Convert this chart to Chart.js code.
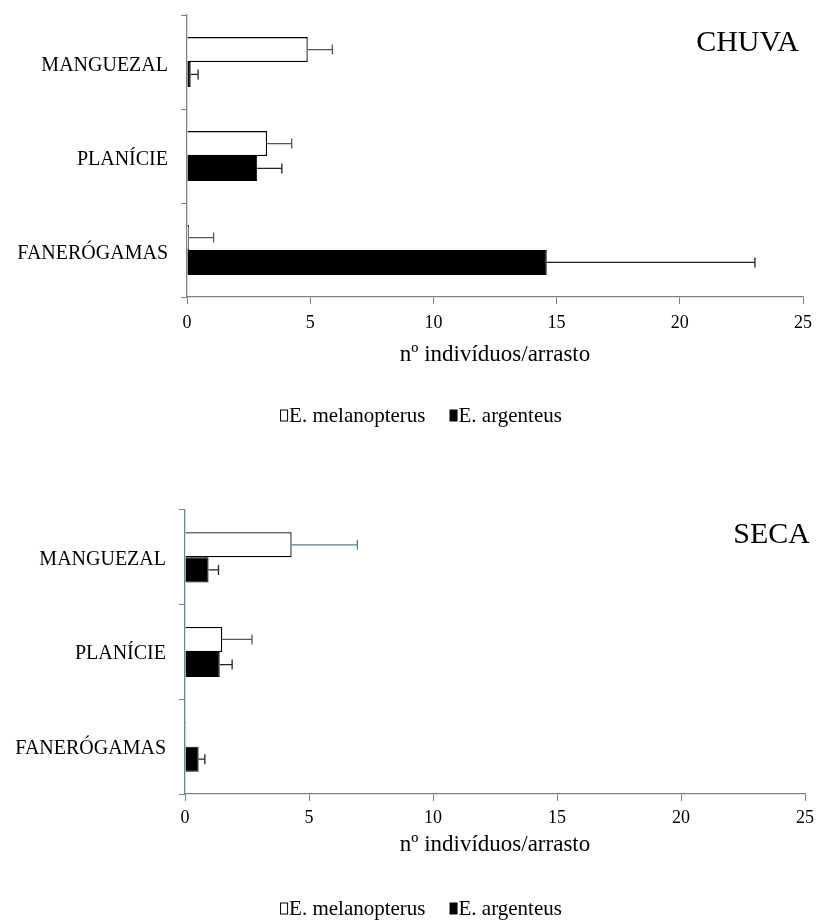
<!DOCTYPE html>
<html>
<head>
<meta charset="utf-8">
<script src="https://cdn.jsdelivr.net/npm/chart.js@4.4.0/dist/chart.umd.min.js"></script>
<style>
  body { margin: 0; background: #fff; }
  canvas { display: block; }
</style>
</head>
<body>
<canvas id="chuvaChart" width="820" height="460"></canvas>
<canvas id="secaChart" width="820" height="460"></canvas>
<script>
// habitats (eixo das categorias)
const categories = ["MANGUEZAL", "PLANÍCIE", "FANERÓGAMAS"];
const speciesNames = ["E. melanopterus", "E. argenteus"];
const xTicks = [0, 5, 10, 15, 20, 25];
const xTitle = "nº indivíduos/arrasto";

// estação chuvosa: médias e desvios
const chuvaMelanopterus = [4.9, 3.25, 0.08];
const chuvaMelanopterusErr = [1.0, 1.0, 1.0];
const chuvaArgenteus = [0.15, 2.85, 14.6];
const chuvaArgenteusErr = [0.3, 1.0, 8.45];

// estação seca
const secaMelanopterus = [4.3, 1.5, 0.05];
const secaMelanopterusErr = [2.65, 1.2, 0];
const secaArgenteus = [0.95, 1.4, 0.55];
const secaArgenteusErr = [0.4, 0.5, 0.25];

const SERIF = "'Liberation Serif', 'Times New Roman', serif";
Chart.defaults.font.family = SERIF;
Chart.defaults.color = "#000";

// barras de erro (só o lado positivo, com traço no fim)
const errorBarsPlugin = {
  id: "errorBars",
  afterDatasetsDraw(chart) {
    const ctx = chart.ctx;
    const xScale = chart.scales.x;
    chart.data.datasets.forEach((ds, i) => {
      const meta = chart.getDatasetMeta(i);
      meta.data.forEach((bar, j) => {
        const err = ds.errors[j];
        if (!err) return;
        const xEnd = xScale.getPixelForValue(ds.data[j] + err);
        const colors = ds.errorColor;
        ctx.save();
        ctx.strokeStyle = Array.isArray(colors) ? colors[j] : colors;
        ctx.lineWidth = 1.3;
        ctx.beginPath();
        ctx.moveTo(bar.x, bar.y);
        ctx.lineTo(xEnd, bar.y);
        ctx.moveTo(xEnd, bar.y - 5);
        ctx.lineTo(xEnd, bar.y + 5);
        ctx.stroke();
        ctx.restore();
      });
    });
  }
};

// legenda e nome da estação desenhados à mão
const extrasPlugin = {
  id: "extras",
  afterDraw(chart, args, opts) {
    const ctx = chart.ctx;
    const area = chart.chartArea;
    ctx.save();
    // nome da estação
    ctx.font = "30px " + SERIF;
    ctx.fillStyle = "#000";
    ctx.textAlign = "right";
    ctx.textBaseline = "middle";
    ctx.fillText(opts.season, area.right + opts.seasonDx, area.top + opts.seasonDy);

    // legenda
    ctx.font = "21px " + SERIF;
    const boxW = 7, boxH = 11, gap = 2, itemGap = 24;
    const items = chart.data.datasets.map(ds => ({ text: ds.label, fill: ds.backgroundColor }));
    let total = 0;
    items.forEach((it, k) => {
      it.w = ctx.measureText(it.text).width;
      total += boxW + gap + it.w + (k ? itemGap : 0);
    });
    let x = opts.legendCenter - total / 2;
    const y = area.bottom + opts.legendDy;
    ctx.textAlign = "left";
    items.forEach(it => {
      ctx.fillStyle = it.fill;
      ctx.fillRect(x + 0.5, y - boxH / 2 + 0.5, boxW, boxH);
      ctx.strokeStyle = "#000";
      ctx.lineWidth = 1;
      ctx.strokeRect(x + 0.5, y - boxH / 2 + 0.5, boxW, boxH);
      ctx.fillStyle = "#000";
      ctx.fillText(it.text, x + boxW + gap, y + 1);
      x += boxW + gap + it.w + itemGap;
    });
    ctx.restore();
  }
};

function makeChart(canvasId, season, melan, melanErr, argen, argenErr, look) {
  const ctx = document.getElementById(canvasId).getContext("2d");
  return new Chart(ctx, {
    type: "bar",
    data: {
      labels: categories,
      datasets: [
        {
          label: speciesNames[0],
          data: melan,
          errors: melanErr,
          backgroundColor: "#ffffff",
          borderColor: "#000000",
          borderWidth: 1.3,
          errorColor: look.melanErrColor
        },
        {
          label: speciesNames[1],
          data: argen,
          errors: argenErr,
          backgroundColor: "#000000",
          borderColor: "#000000",
          borderWidth: 1,
          errorColor: "#222222"
        }
      ]
    },
    options: {
      indexAxis: "y",
      responsive: false,
      animation: false,
      categoryPercentage: 0.53,
      barPercentage: 1.0,
      layout: { padding: { top: look.top, right: 14, bottom: look.bottom, left: 0 } },
      plugins: {
        legend: { display: false },
        tooltip: { enabled: false },
        extras: {
          season,
          seasonDx: look.seasonDx,
          seasonDy: look.seasonDy,
          legendCenter: 421,
          legendDy: look.legendDy
        }
      },
      scales: {
        y: {
          afterFit: (scale) => {
            scale.width = look.axisX;
            scale.paddingTop = 0;
            scale.paddingBottom = 0;
          },
          grid: { display: true, drawOnChartArea: false, tickLength: 6, color: look.axisColor, offset: true },
          border: { color: look.axisColor, width: 1.3 },
          ticks: { font: { size: 20 }, color: "#000", padding: 13, labelOffset: look.labelOffset }
        },
        x: {
          min: xTicks[0],
          max: xTicks[xTicks.length - 1],
          afterFit: (scale) => { scale.height = look.xHeight; },
          grid: { display: true, drawOnChartArea: false, tickLength: 7, color: look.axisColor },
          border: { color: look.axisColor, width: 1.3 },
          ticks: { stepSize: xTicks[1] - xTicks[0], font: { size: 18 }, color: "#000", padding: look.tickPad },
          title: { display: true, text: xTitle, font: { size: 23 }, color: "#000", padding: { top: 0, bottom: 1 } }
        }
      }
    },
    plugins: [errorBarsPlugin, extrasPlugin]
  });
}

makeChart("chuvaChart", "CHUVA", chuvaMelanopterus, chuvaMelanopterusErr, chuvaArgenteus, chuvaArgenteusErr, {
  top: 15, bottom: 90, xHeight: 73, tickPad: 8, axisX: 187, labelOffset: 4,
  axisColor: "#808080", melanErrColor: "#555555",
  seasonDx: -4, seasonDy: 28, legendDy: 118
});

makeChart("secaChart", "SECA", secaMelanopterus, secaMelanopterusErr, secaArgenteus, secaArgenteusErr, {
  top: 50, bottom: 60, xHeight: 66, tickPad: 6, axisX: 185, labelOffset: 2,
  axisColor: "#6f8692", melanErrColor: ["#4f7f99", "#555555", "#555555"],
  seasonDx: 5, seasonDy: 25, legendDy: 114
});
</script>
</body>
</html>
